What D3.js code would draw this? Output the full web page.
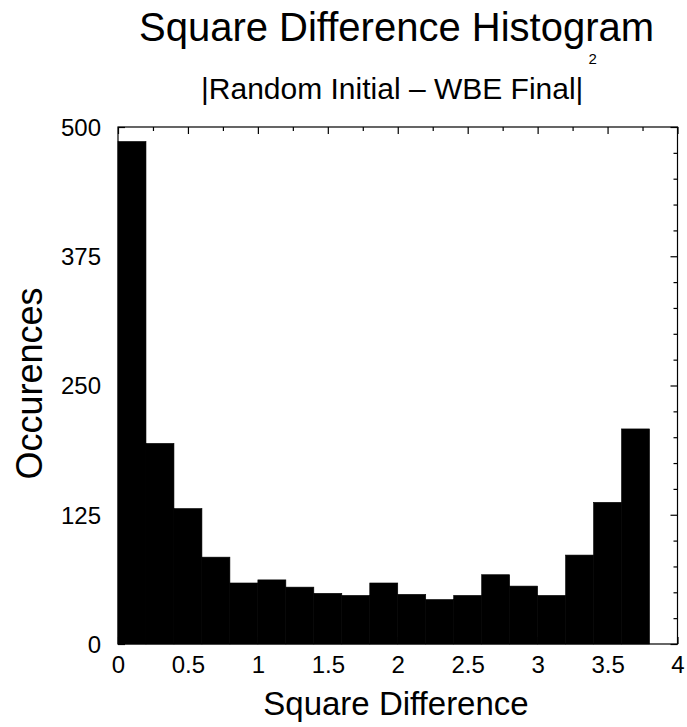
<!DOCTYPE html>
<html><head><meta charset="utf-8">
<script src="https://cdn.jsdelivr.net/npm/d3@7"></script>
<style>
html,body{margin:0;padding:0;background:#fff;}
svg{display:block;}
text{font-family:"Liberation Sans",Arial,Helvetica,sans-serif;fill:#000;}
</style></head>
<body>
<script>
// ---- data ----
const binStarts = [0,0.2,0.4,0.6,0.8,1.0,1.2,1.4,1.6,1.8,2.0,2.2,2.4,2.6,2.8,3.0,3.2,3.4,3.6];
const binWidth = 0.2;
const counts = [486,194,131,84,59,62,55,49,47,59,48,43,47,67,56,47,86,137,208];
const xMajorTicks = [0,0.5,1,1.5,2,2.5,3,3.5,4];
const xTickLabels = ["0","0.5","1","1.5","2","2.5","3","3.5","4"];
const xMinorTicks = [0.25,0.75,1.25,1.75,2.25,2.75,3.25,3.75];
const yMajorTicks = [0,125,250,375,500];
const yTickLabels = ["0","125","250","375","500"];
const yMinorTicks = [25,50,75,100,150,175,200,225,275,300,325,350,400,425,450,475];
const title = "Square Difference Histogram";
const subtitle = "|Random Initial \u2013 WBE Final|";
const subtitleSup = "2";
const xLabel = "Square Difference";
const yLabel = "Occurences";

const W = 687, H = 727;
const L = 118, R = 677.5, T = 127, B = 644;

const svg = d3.select("body").append("svg").attr("width", W).attr("height", H);
const x = d3.scaleLinear().domain([0,4]).range([L,R]);
const y = d3.scaleLinear().domain([0,500]).range([B,T]);

// bars
svg.append("g").selectAll("rect").data(binStarts).join("rect")
  .attr("x", d => x(d))
  .attr("width", (d) => x(d + binWidth) - x(d))
  .attr("y", (d,i) => y(counts[i]))
  .attr("height", (d,i) => y(0) - y(counts[i]))
  .attr("fill", "#000")
  .attr("stroke", "#000").attr("stroke-width", 0.6);

// frame
svg.append("rect").attr("x", L).attr("y", T).attr("width", R-L).attr("height", B-T)
  .attr("fill","none").attr("stroke","#000").attr("stroke-width",1.2);

function tickAxis(axis, pos, values, size){
  const g = svg.append("g").attr("transform", pos)
    .call(axis.tickValues(values).tickSize(size).tickFormat(""));
  g.select(".domain").remove();
  g.selectAll("line").attr("stroke","#000").attr("stroke-width",1.2);
}
// top ticks (inward)
tickAxis(d3.axisTop(x), `translate(0,${T})`, xMajorTicks, -7);
tickAxis(d3.axisTop(x), `translate(0,${T})`, xMinorTicks, -4);
// bottom ticks (inward)
tickAxis(d3.axisBottom(x), `translate(0,${B})`, xMajorTicks, -7);
tickAxis(d3.axisBottom(x), `translate(0,${B})`, xMinorTicks, -4);
// right ticks (inward)
tickAxis(d3.axisRight(y), `translate(${R},0)`, yMajorTicks, -7);
tickAxis(d3.axisRight(y), `translate(${R},0)`, yMinorTicks, -4);
// left ticks (inward)
tickAxis(d3.axisLeft(y), `translate(${L},0)`, yMajorTicks, -7);
tickAxis(d3.axisLeft(y), `translate(${L},0)`, yMinorTicks, -4);

// tick labels
const xl = svg.append("g").attr("transform", `translate(0,${B})`)
  .call(d3.axisBottom(x).tickValues(xMajorTicks).tickSize(0).tickPadding(0)
    .tickFormat((d,i) => xTickLabels[i]));
xl.select(".domain").remove();
xl.selectAll("text").attr("font-size", 24).attr("dy", null).attr("y", 29)
  .style("font-family", '"Liberation Sans", Arial, sans-serif');

const yl = svg.append("g").attr("transform", `translate(${L},0)`)
  .call(d3.axisLeft(y).tickValues(yMajorTicks).tickSize(0).tickPadding(17)
    .tickFormat((d,i) => yTickLabels[i]));
yl.select(".domain").remove();
yl.selectAll("text").attr("font-size", 24).attr("dy", "0.35em")
  .style("font-family", '"Liberation Sans", Arial, sans-serif');

// titles
svg.append("text").attr("x", 396.5).attr("y", 41).attr("text-anchor","middle")
  .attr("font-size", 40).text(title);
const st = svg.append("text").attr("x", 201).attr("y", 99).attr("font-size", 30);
st.append("tspan").text(subtitle);
st.append("tspan").attr("font-size", 15).attr("dx", 5).attr("y", 64).text(subtitleSup);

svg.append("text").attr("x", 396).attr("y", 715).attr("text-anchor","middle")
  .attr("font-size", 33).text(xLabel);
svg.append("text").attr("transform", "translate(42,383.5) rotate(-90)")
  .attr("text-anchor","middle").attr("font-size", 36).text(yLabel);
</script>
</body></html>
